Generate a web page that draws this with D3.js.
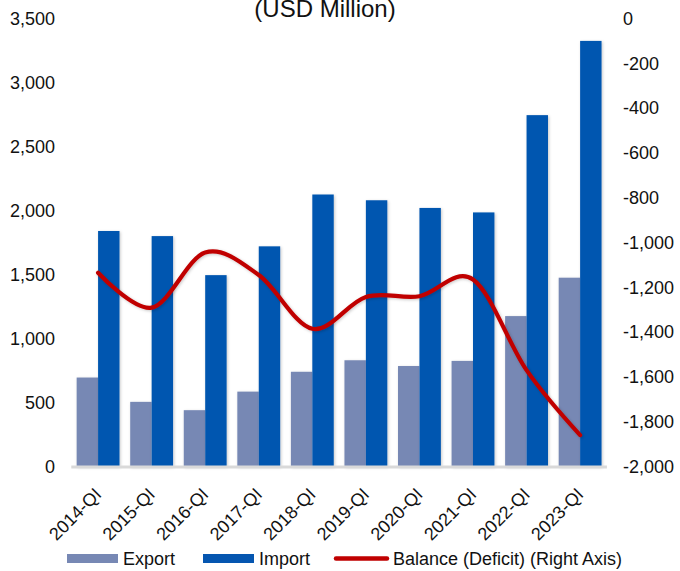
<!DOCTYPE html>
<html>
<head>
<meta charset="utf-8">
<script src="https://cdn.jsdelivr.net/npm/d3@7"></script>
<style>
  html, body { margin: 0; padding: 0; background: #fff; }
  svg { display: block; font-family: "Liberation Sans", Arial, sans-serif; }
</style>
</head>
<body>
<div id="chart"></div>
<script>
const categories = ["2014-QI","2015-QI","2016-QI","2017-QI","2018-QI","2019-QI","2020-QI","2021-QI","2022-QI","2023-QI"];
const exportValues = [695, 505, 440, 585, 740, 830, 785, 825, 1175, 1475];
const importValues = [1840, 1800, 1495, 1720, 2125, 2080, 2020, 1985, 2745, 3325];
const balanceValues = [-1135, -1291, -1045, -1145, -1385, -1243, -1240, -1165, -1570, -1860];
const leftTicks = [0, 500, 1000, 1500, 2000, 2500, 3000, 3500];
const rightTicks = [0, -200, -400, -600, -800, -1000, -1200, -1400, -1600, -1800, -2000];
const seriesNames = ["Export", "Import", "Balance (Deficit) (Right Axis)"];
const titleText = "(USD Million)";

const W = 680, H = 571;
const colors = { Export: "#7788B4", Import: "#0556B0", Balance: "#C00000" };

const svg = d3.select("#chart").append("svg").attr("width", W).attr("height", H);

const defs = svg.append("defs");
const f = defs.append("filter").attr("id", "shadow").attr("x", "-30%").attr("y", "-10%").attr("width", "160%").attr("height", "120%");
f.append("feDropShadow").attr("dx", 1).attr("dy", 1).attr("stdDeviation", 1.6)
  .attr("flood-color", "#000").attr("flood-opacity", 0.22);

const x = d3.scaleBand().domain(categories).range([71.3, 606.9]).paddingInner(0.2).paddingOuter(0.1);
const xs = d3.scaleBand().domain(["Export","Import"]).range([0, x.bandwidth()]);
const yL = d3.scaleLinear().domain([0, 3500]).range([466.5, 18.5]);
const yR = d3.scaleLinear().domain([-2000, 0]).range([466.5, 18.5]);

// title
svg.append("text").attr("x", 325).attr("y", 17).attr("text-anchor", "middle")
  .attr("font-size", 24).attr("fill", "#111").text(titleText);

// bars
const g = svg.append("g");
const groups = g.selectAll("g.grp").data(categories).join("g")
  .attr("transform", d => `translate(${x(d)},0)`);
groups.append("rect")
  .attr("x", xs("Export")).attr("width", xs.bandwidth())
  .attr("y", (d, i) => yL(exportValues[i]))
  .attr("height", (d, i) => yL(0) - yL(exportValues[i]))
  .attr("fill", colors.Export).attr("filter", "url(#shadow)");
groups.append("rect")
  .attr("x", xs("Import")).attr("width", xs.bandwidth())
  .attr("y", (d, i) => yL(importValues[i]))
  .attr("height", (d, i) => yL(0) - yL(importValues[i]))
  .attr("fill", colors.Import).attr("filter", "url(#shadow)");

// baseline
svg.append("line").attr("x1", 71.3).attr("x2", 606.9)
  .attr("y1", yL(0) + 0.5).attr("y2", yL(0) + 0.5)
  .attr("stroke", "#D9D9D9").attr("stroke-width", 3);

// balance line
const line = d3.line()
  .x((d, i) => x(categories[i]) + x.bandwidth() / 2)
  .y(d => yR(d))
  .curve(d3.curveCatmullRom.alpha(0));
svg.append("path").datum(balanceValues).attr("d", line)
  .attr("fill", "none").attr("stroke", colors.Balance).attr("stroke-width", 4.2)
  .attr("stroke-linecap", "round").attr("filter", "url(#shadow)");

// left axis
const axL = d3.axisLeft(yL).tickValues(leftTicks).tickSize(0).tickPadding(0).tickFormat(d3.format(","));
const gL = svg.append("g").attr("transform", "translate(55,0)").call(axL);
gL.select(".domain").remove();
gL.selectAll("text").attr("font-size", 18).attr("fill", "#111").attr("font-family", "Liberation Sans, Arial, sans-serif");

// right axis
const axR = d3.axisRight(yR).tickValues(rightTicks).tickSize(0).tickPadding(0).tickFormat(d3.format(","));
const gR = svg.append("g").attr("transform", "translate(623,0)").call(axR);
gR.select(".domain").remove();
gR.selectAll("text").attr("font-size", 18).attr("fill", "#111").attr("font-family", "Liberation Sans, Arial, sans-serif")
  .text(d => d3.format(",")(d).replace("−", "-"));

// x axis labels
const axX = d3.axisBottom(x).tickSize(0).tickPadding(0);
const gX = svg.append("g").attr("transform", "translate(0,491)").call(axX);
gX.select(".domain").remove();
gX.selectAll("text")
  .attr("font-size", 18).attr("fill", "#111").attr("font-family", "Liberation Sans, Arial, sans-serif")
  .attr("text-anchor", "end").attr("transform", "rotate(-45)")
  .attr("x", 0).attr("y", 0).attr("dy", "0.35em");

// legend
const lg = svg.append("g");
const legendItems = [
  { name: seriesNames[0], type: "rect", color: colors.Export, x: 67 },
  { name: seriesNames[1], type: "rect", color: colors.Import, x: 203 },
  { name: seriesNames[2], type: "line", color: colors.Balance, x: 334 }
];
legendItems.forEach(it => {
  if (it.type === "rect") {
    lg.append("rect").attr("x", it.x).attr("y", 554).attr("width", 51).attr("height", 9).attr("fill", it.color);
    lg.append("text").attr("x", it.x + 56).attr("y", 558.5).attr("dy", "0.35em")
      .attr("font-size", 18).attr("fill", "#111").text(it.name);
  } else {
    lg.append("line").attr("x1", it.x + 2).attr("x2", it.x + 53).attr("y1", 558.5).attr("y2", 558.5)
      .attr("stroke", it.color).attr("stroke-width", 4.5).attr("stroke-linecap", "round");
    lg.append("text").attr("x", it.x + 59).attr("y", 558.5).attr("dy", "0.35em")
      .attr("font-size", 18).attr("fill", "#111").text(it.name);
  }
});
</script>
</body>
</html>
